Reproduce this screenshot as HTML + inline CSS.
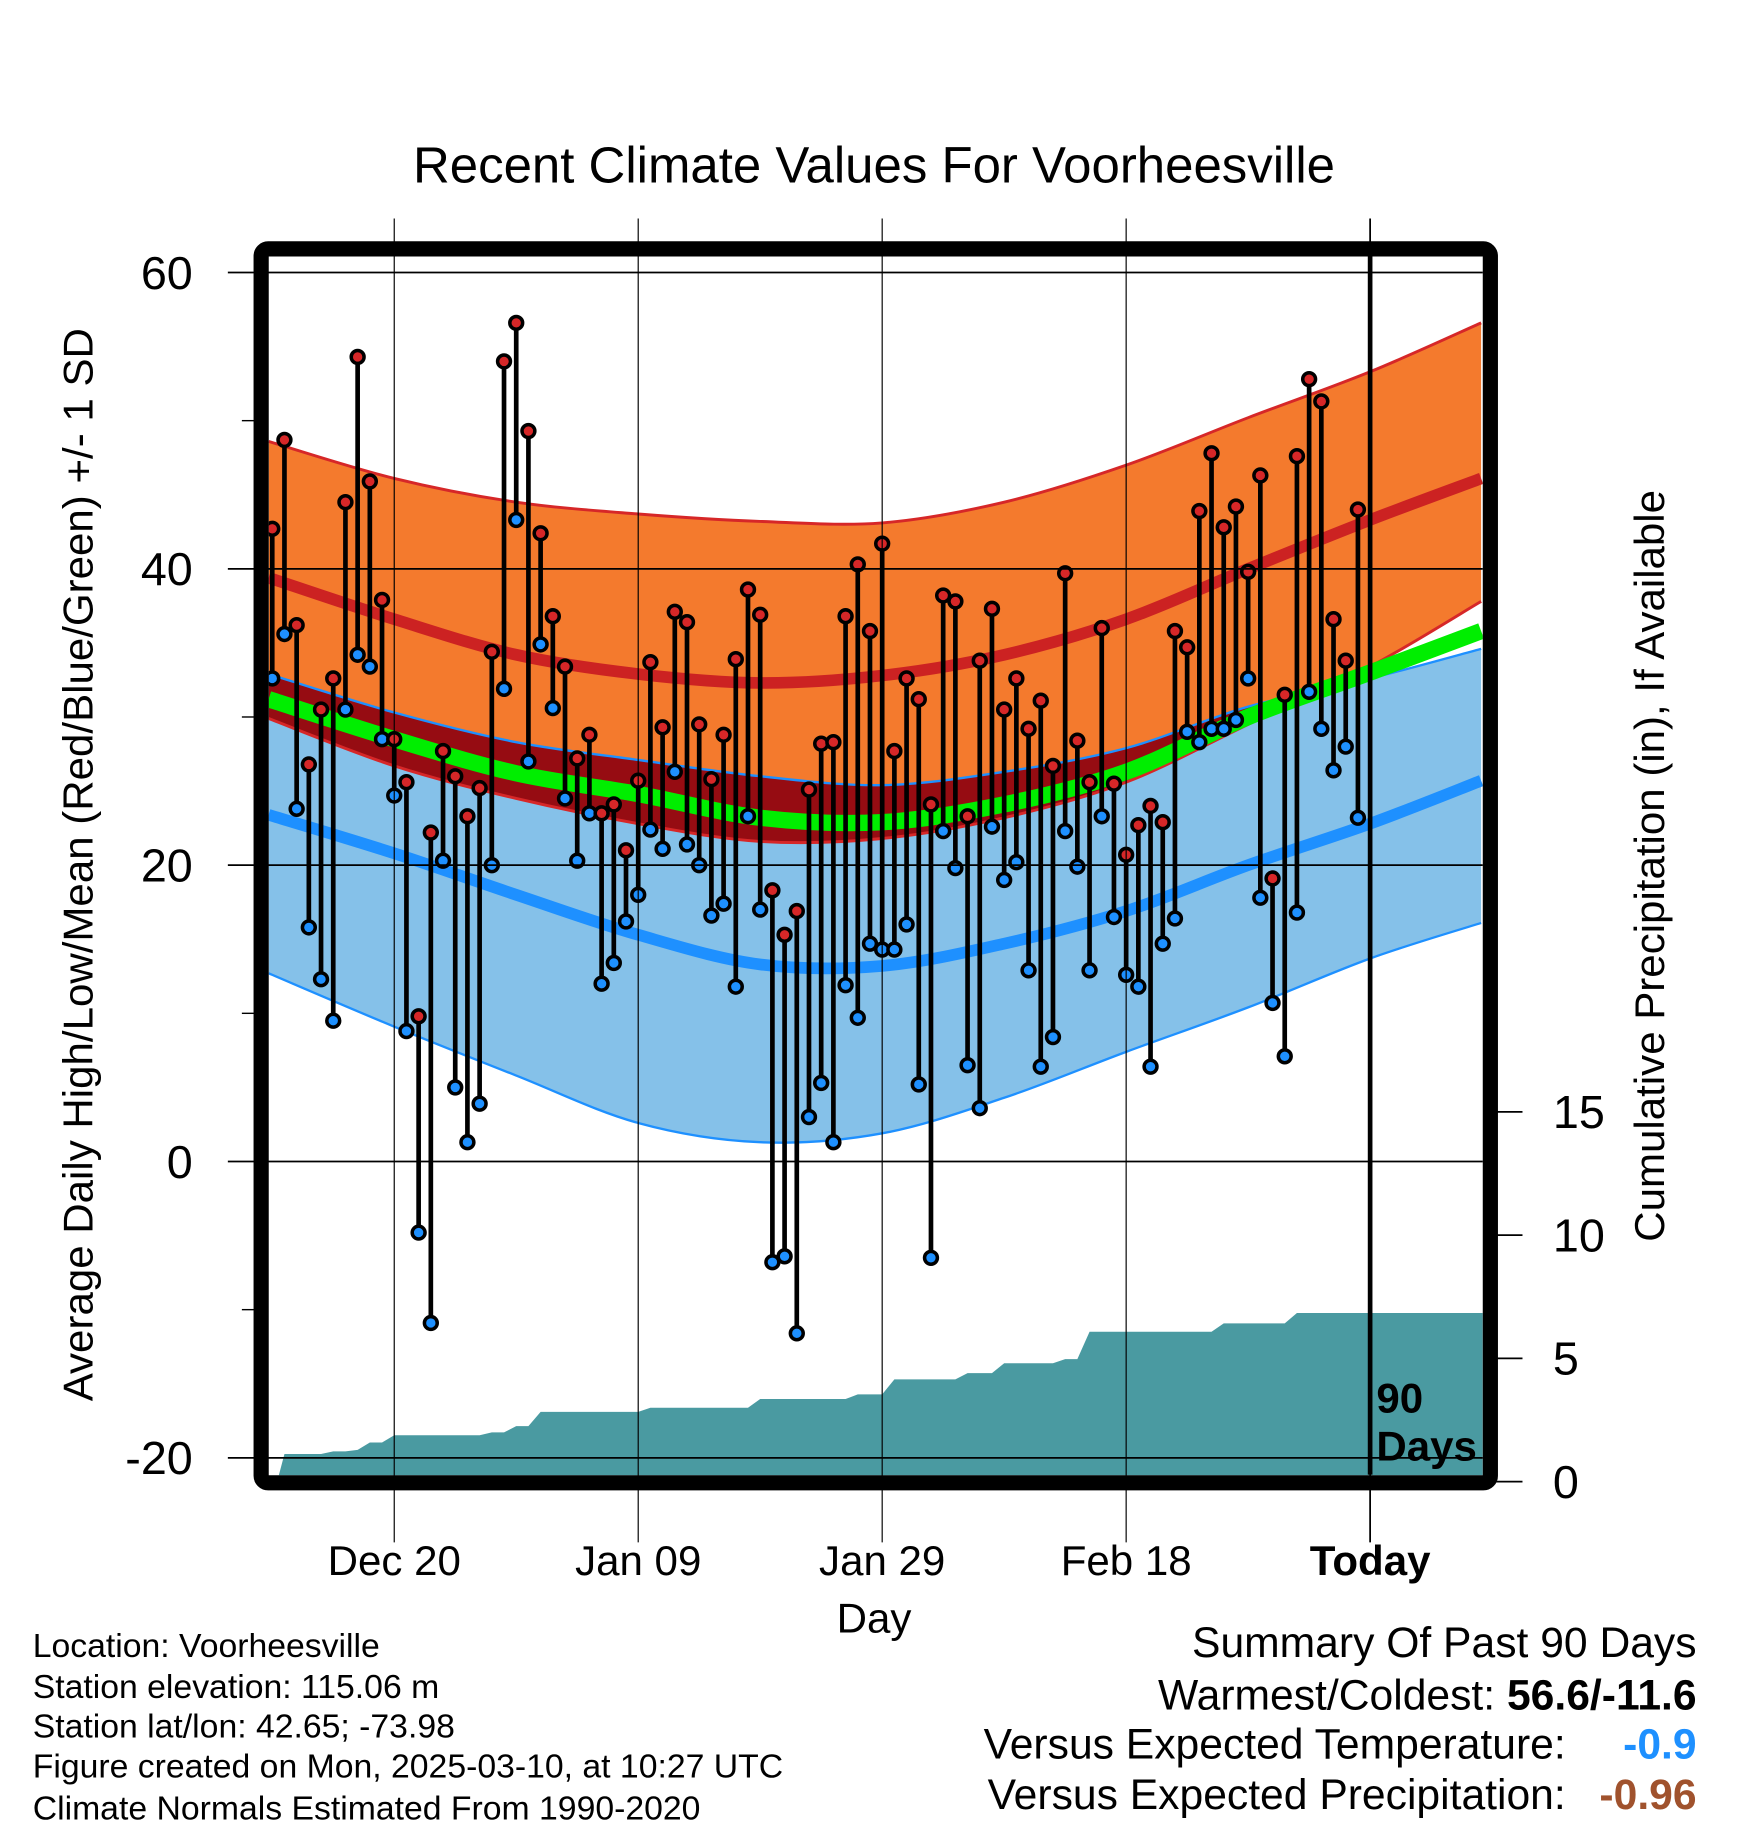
<!DOCTYPE html>
<html><head><meta charset="utf-8">
<style>
html,body{margin:0;padding:0;background:#fff;}
svg{display:block;font-family:"Liberation Sans",Arial,sans-serif;}
</style></head>
<body>
<svg id="chart" xmlns="http://www.w3.org/2000/svg" width="1748" height="1828" viewBox="0 0 1496 1564.4" preserveAspectRatio="none">
<defs><clipPath id="plotclip"><rect x="230" y="219.5" width="1039" height="1043"/></clipPath></defs>
<text x="748" y="156" font-size="43.6" text-anchor="middle">Recent Climate Values For Voorheesville</text>
<g id="plot" clip-path="url(#plotclip)"></g>
<g id="axes"></g>
<rect x="223.5" y="213" width="1052" height="1056" rx="6" fill="none" stroke="#000" stroke-width="13"/>
<text transform="translate(79,740) rotate(-90)" font-size="36" text-anchor="middle">Average Daily High/Low/Mean (Red/Blue/Green) +/- 1 SD</text>
<text transform="translate(1424,741) rotate(-90)" font-size="36" text-anchor="middle">Cumulative Precipitation (in), If Available</text>
<text x="748" y="1397" font-size="36" text-anchor="middle">Day</text>
<text x="1178" y="1209" font-size="36" font-weight="bold">90</text>
<text x="1178" y="1250" font-size="36" font-weight="bold">Days</text>
<g font-size="28.9">
<text x="28" y="1418">Location: Voorheesville</text>
<text x="28" y="1453">Station elevation: 115.06 m</text>
<text x="28" y="1487">Station lat/lon: 42.65; -73.98</text>
<text x="28" y="1521">Figure created on Mon, 2025-03-10, at 10:27 UTC</text>
<text x="28" y="1557">Climate Normals Estimated From 1990-2020</text>
</g>
<g font-size="36.5" text-anchor="end">
<text x="1452" y="1418">Summary Of Past 90 Days</text>
<text x="1452" y="1463">Warmest/Coldest: <tspan font-weight="bold">56.6/-11.6</tspan></text>
<text x="1340" y="1505">Versus Expected Temperature:</text>
<text x="1452" y="1505" font-weight="bold" fill="#1e90ff">-0.9</text>
<text x="1340" y="1548">Versus Expected Precipitation:</text>
<text x="1452" y="1548" font-weight="bold" fill="#a0522d">-0.96</text>
</g>
</svg>
<script>
var highs=[42.7,48.7,36.2,26.8,30.5,32.6,44.5,54.3,45.9,37.9,28.5,25.6,9.8,22.2,27.7,26.0,23.3,25.2,34.4,54.0,56.6,49.3,42.4,36.8,33.4,27.2,28.8,23.5,24.1,21.0,25.7,33.7,29.3,37.1,36.4,29.5,25.8,28.8,33.9,38.6,36.9,18.3,15.3,16.9,25.1,28.2,28.3,36.8,40.3,35.8,41.7,27.7,32.6,31.2,24.1,38.2,37.8,23.3,33.8,37.3,30.5,32.6,29.2,31.1,26.7,39.7,28.4,25.6,36.0,25.5,20.7,22.7,24.0,22.9,35.8,34.7,43.9,47.8,42.8,44.2,39.8,46.3,19.1,31.5,47.6,52.8,51.3,36.6,33.8,44.0];
var lows=[32.6,35.6,23.8,15.8,12.3,9.5,30.5,34.2,33.4,28.5,24.7,8.8,-4.8,-10.9,20.3,5.0,1.3,3.9,20.0,31.9,43.3,27.0,34.9,30.6,24.5,20.3,23.5,12.0,13.4,16.2,18.0,22.4,21.1,26.3,21.4,20.0,16.6,17.4,11.8,23.3,17.0,-6.8,-6.4,-11.6,3.0,5.3,1.3,11.9,9.7,14.7,14.3,14.3,16.0,5.2,-6.5,22.3,19.8,6.5,3.6,22.6,19.0,20.2,12.9,6.4,8.4,22.3,19.9,12.9,23.3,16.5,12.6,11.8,6.4,14.7,16.4,29.0,28.3,29.2,29.2,29.8,32.6,17.8,10.7,7.1,16.8,31.7,29.2,26.4,28.0,23.2];
var precip=[0,1.12,1.12,1.12,1.12,1.23,1.23,1.29,1.59,1.59,1.88,1.88,1.88,1.88,1.88,1.88,1.88,1.88,2.0,2.0,2.25,2.25,2.83,2.83,2.83,2.83,2.83,2.83,2.83,2.83,2.83,3.0,3.0,3.0,3.0,3.0,3.0,3.0,3.0,3.0,3.35,3.35,3.35,3.35,3.35,3.35,3.35,3.35,3.54,3.54,3.54,4.15,4.15,4.15,4.15,4.15,4.15,4.4,4.4,4.4,4.8,4.8,4.8,4.8,4.8,4.97,4.97,6.08,6.08,6.08,6.08,6.08,6.08,6.08,6.08,6.08,6.08,6.08,6.42,6.42,6.42,6.42,6.42,6.42,6.84,6.84,6.84,6.84,6.84,6.84];
var normDays=[-0.3,10,20,30,40,50,60,70,80,90,99.1];
var normHigh=[39.4,36.6,34.2,32.9,32.3,32.8,34.2,36.6,40.0,43.3,46.1];
var normHighUp=[48.6,46.1,44.5,43.7,43.2,43.1,44.5,47.0,50.2,53.3,56.6];
var normHighLo=[29.9,26.7,24.5,22.8,21.6,21.8,23.2,25.6,29.5,33.4,37.8];
var normLow=[23.4,20.8,18.0,15.3,13.3,13.2,14.7,16.9,20.0,22.8,25.7];
var normLowUp=[32.9,30.3,28.3,27.1,26.0,25.4,26.3,27.9,30.7,32.6,34.6];
var normLowLo=[12.7,9.1,5.8,2.6,1.3,1.9,4.3,7.4,10.4,13.7,16.1];
var normMean=[31.2,28.5,26.2,24.8,23.2,22.9,24.1,26.3,30.0,33.0,35.8];
var yTicks=[60,40,20,0,-20];
var yMinor=[50,30,10,-10];
var pTicks=[0,5,10,15];
var xTickDays=[10,30,50,70,90];
var xTickLabels=["Dec 20","Jan 09","Jan 29","Feb 18","Today"];

var NS="http://www.w3.org/2000/svg";
function xs(d){return 233+d*10.44;}
function ys(v){return 994-v*12.68;}
function yp(p){return 1268-p*21.1;}
function mk(tag,attrs,parent){var e=document.createElementNS(NS,tag);for(var k in attrs)e.setAttribute(k,attrs[k]);parent.appendChild(e);return e;}
function pts(arr){var r=[];for(var i=0;i<arr.length;i++)r.push([xs(normDays[i]),ys(arr[i])]);return r;}
function smooth(p,move){var s=(move?"M":"L")+p[0][0]+","+p[0][1];for(var i=0;i<p.length-1;i++){var p0=p[i-1]||p[i],p1=p[i],p2=p[i+1],p3=p[i+2]||p2;s+=" C"+(p1[0]+(p2[0]-p0[0])/6)+","+(p1[1]+(p2[1]-p0[1])/6)+" "+(p2[0]-(p3[0]-p1[0])/6)+","+(p2[1]-(p3[1]-p1[1])/6)+" "+p2[0]+","+p2[1];}return s;}
function band(up,lo){var a=pts(up),b=pts(lo).reverse();return smooth(a,true)+" "+smooth(b,false)+" Z";}
var plot=document.getElementById('plot'),axes=document.getElementById('axes');

yTicks.forEach(function(v){var l=mk('line',{x1:195,x2:1269,y1:ys(v),y2:ys(v),stroke:'#000','stroke-width':1.5},axes);


var t=mk('text',{x:165,y:ys(v)+14,'font-size':40,'text-anchor':'end'},axes);t.textContent=v;

});
yMinor.forEach(function(v){var l=mk('line',{x1:207,x2:218,y1:ys(v),y2:ys(v),stroke:'#000','stroke-width':1.2},axes);

});
pTicks.forEach(function(p){var l=mk('line',{x1:1280,x2:1303,y1:yp(p),y2:yp(p),stroke:'#000','stroke-width':1.5},axes);


var t=mk('text',{x:1329,y:yp(p)+14,'font-size':40},axes);t.textContent=p;

});

var hb=band(normHighUp,normHighLo),lb=band(normLowUp,normLowLo);
var e;
e=mk('path',{d:hb,fill:'#f47a2d'},plot);


e=mk('path',{d:lb,fill:'#85c1e9'},plot);


var defs=document.querySelector('defs');var cp=mk('clipPath',{id:'hbclip'},defs);mk('path',{d:hb},cp);
e=mk('path',{d:lb,fill:'#960c12','clip-path':'url(#hbclip)'},plot);


function line(arr,col,w,name){var p=mk('path',{d:smooth(pts(arr),true),fill:'none',stroke:col,'stroke-width':w},plot);

}
line(normHighUp,'#d62728',2.5,'high-plus-sd-line');
line(normHighLo,'#d62728',2.5,'high-minus-sd-line');
line(normLowUp,'#1e90ff',2,'low-plus-sd-line');
line(normLowLo,'#1e90ff',2,'low-minus-sd-line');
line(normHigh,'#cc2222',10,'normal-high-line');
line(normLow,'#1e90ff',10,'normal-low-line');
line(normMean,'#00ee00',14,'normal-mean-line');

var pd="M"+xs(0.4)+","+yp(0);for(var i=1;i<precip.length;i++)pd+=" L"+xs(i)+","+yp(precip[i]);
pd+=" L1269,"+yp(precip[precip.length-1])+" L1269,1270 L"+xs(0.4)+",1270 Z";
e=mk('path',{d:pd,fill:'#4a9aa1'},plot);



xTickDays.forEach(function(d,i){var today=i===xTickDays.length-1;
var l=mk('line',{x1:xs(d),x2:xs(d),y1:187,y2:1320,stroke:'#000','stroke-width':today?1.5:1},axes);


var t=mk('text',{x:xs(d),y:1348,'font-size':36,'text-anchor':'middle','font-weight':today?'bold':'normal'},axes);t.textContent=xTickLabels[i];

});
e=mk('line',{x1:xs(90),x2:xs(90),y1:219,y2:1262,stroke:'#000','stroke-width':4},plot);



for(var d=0;d<highs.length;d++){var x=xs(d);
var s=mk('line',{x1:x,x2:x,y1:ys(highs[d]),y2:ys(lows[d]),stroke:'#000','stroke-width':4},plot);


var c1=mk('circle',{cx:x,cy:ys(highs[d]),r:5.5,fill:'#d62728',stroke:'#000','stroke-width':3},plot);


var c2=mk('circle',{cx:x,cy:ys(lows[d]),r:5.5,fill:'#1e90ff',stroke:'#000','stroke-width':3},plot);

}
</script>
</body></html>
